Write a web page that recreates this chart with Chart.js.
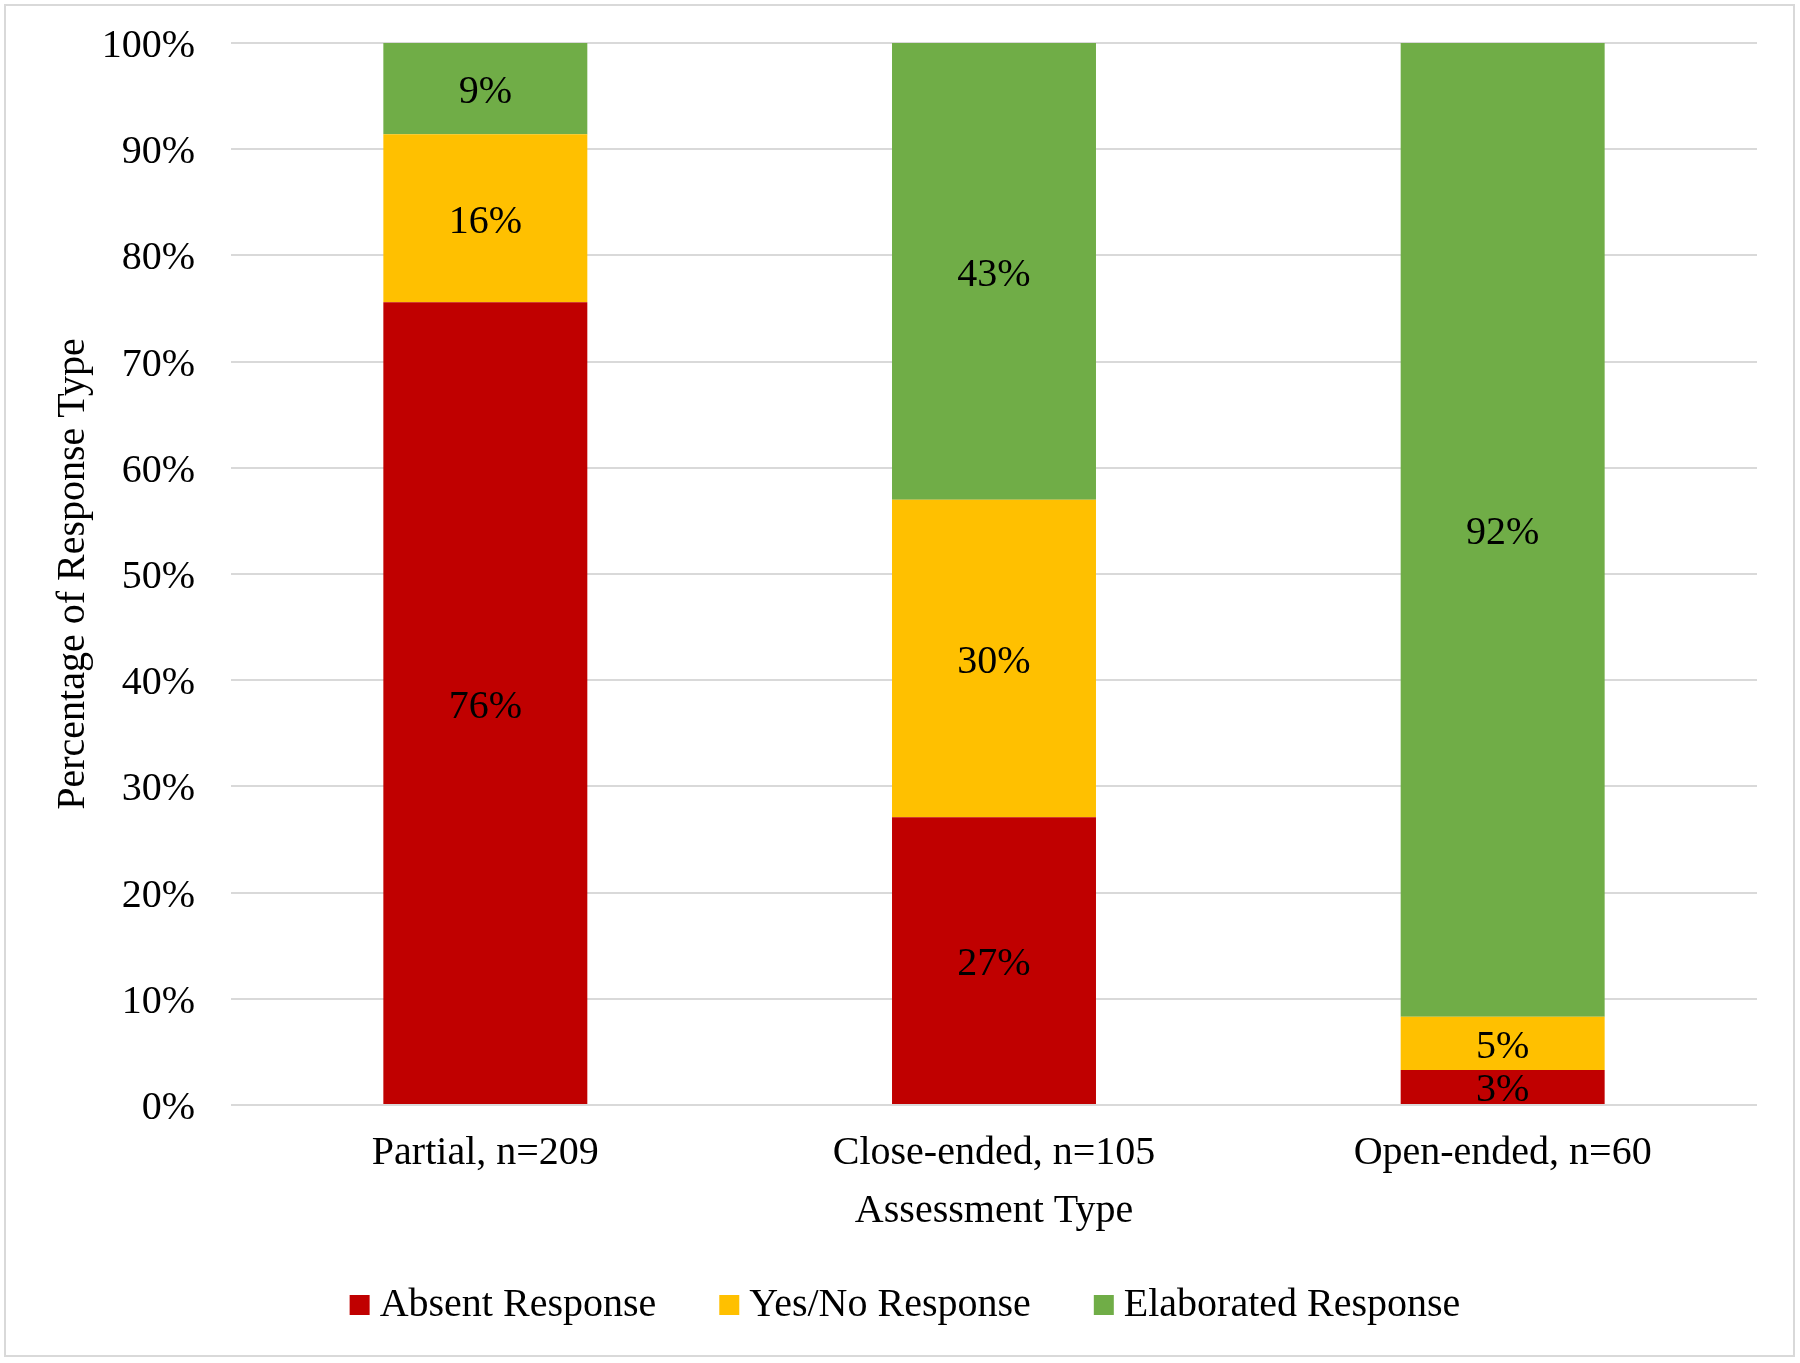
<!DOCTYPE html>
<html>
<head>
<meta charset="utf-8">
<script src="https://cdn.jsdelivr.net/npm/chart.js@4.4.1/dist/chart.umd.min.js"></script>
<style>
    html, body { margin: 0; padding: 0; background: #fff; }
    #responseChart { display: block; }
</style>
</head>
<body>
<canvas id="responseChart" width="1800" height="1363"></canvas>
<script>
const categories = ['Partial, n=209', 'Close-ended, n=105', 'Open-ended, n=60'];
const seriesNames = ['Absent Response', 'Yes/No Response', 'Elaborated Response'];
const seriesColors = ['#C00000', '#FFC000', '#70AD47'];
const absentValues = [75.6, 27.1, 3.3];
const yesNoValues = [15.8, 29.9, 5.0];
const elaboratedValues = [8.6, 43.0, 91.7];
const yTicks = [0, 10, 20, 30, 40, 50, 60, 70, 80, 90, 100];

const serif = '"Liberation Serif", "Times New Roman", serif';
Chart.defaults.font.family = serif;
Chart.defaults.font.size = 40;
Chart.defaults.color = '#000';

// white page + thin grey frame round the whole picture
const pageFrame = {
    id: 'pageFrame',
    beforeDraw(chart) {
        const ctx = chart.ctx
        ctx.save()
        ctx.fillStyle = '#fff'
        ctx.fillRect(0, 0, chart.width, chart.height)
        ctx.strokeStyle = '#D9D9D9'
        ctx.lineWidth = 2
        ctx.strokeRect(5, 5, chart.width - 11, chart.height - 12)
        ctx.restore()
    }
}

// percentage written in the middle of each stacked segment
const barLabels = {
    id: 'barLabels',
    afterDatasetsDraw(chart) {
        const ctx = chart.ctx
        ctx.save()
        ctx.font = '40px ' + serif
        ctx.fillStyle = '#000'
        ctx.textAlign = 'center'
        ctx.textBaseline = 'middle'
        chart.data.datasets.forEach((ds, i) => {
            chart.getDatasetMeta(i).data.forEach((bar, j) => {
                const { x, y, base } = bar.getProps(['x', 'y', 'base'], true)
                ctx.fillText(Math.round(ds.data[j]) + '%', x, (y + base) / 2 + 4)
            })
        })
        ctx.restore()
    }
}

const seriesData = [absentValues, yesNoValues, elaboratedValues];

const responseChartConfig = {
    type: 'bar',
    data: {
        labels: categories,
        datasets: seriesData.map((values, i) => ({
            label: seriesNames[i],
            data: values,
            backgroundColor: seriesColors[i],
            borderWidth: 0,
            barPercentage: 0.401,
            categoryPercentage: 1
        }))
    },
    options: {
        responsive: false,
        animation: false,
        devicePixelRatio: 1,
        layout: {
            padding: { top: 43, left: 63, right: 43, bottom: 28 }
        },
        scales: {
            x: {
                stacked: true,
                grid: { display: false },
                border: { display: false },
                ticks: { padding: 16 },
                title: {
                    display: true,
                    text: 'Assessment Type',
                    padding: { top: 0, bottom: -23 }
                },
                afterFit(scale) {
                    scale.height = 107
                }
            },
            y: {
                stacked: true,
                min: 0,
                max: 100,
                afterBuildTicks(scale) {
                    scale.ticks = yTicks.map(v => ({ value: v }))
                },
                ticks: {
                    padding: 36,
                    labelOffset: 3.5,
                    callback: (v) => v + '%'
                },
                grid: {
                    color: '#D9D9D9',
                    lineWidth: 2,
                    drawTicks: false
                },
                border: { display: false },
                title: {
                    display: true,
                    text: 'Percentage of Response Type',
                    padding: { top: -14, bottom: 0 }
                },
                afterFit(scale) {
                    scale.width = 168
                    scale.paddingTop = 0
                    scale.paddingBottom = 0
                }
            }
        },
        plugins: {
            legend: {
                position: 'bottom',
                labels: {
                    usePointStyle: true,
                    pointStyle: 'rect',
                    boxWidth: 0.01,
                    boxHeight: 20,
                    padding: 73,
                    font: { size: 40 }
                }
            },
            tooltip: { enabled: false }
        }
    },
    plugins: [pageFrame, barLabels]
}

const responseChartCtx = document.getElementById('responseChart');
const responseChart = new Chart(responseChartCtx, responseChartConfig)
</script>
</body>
</html>
